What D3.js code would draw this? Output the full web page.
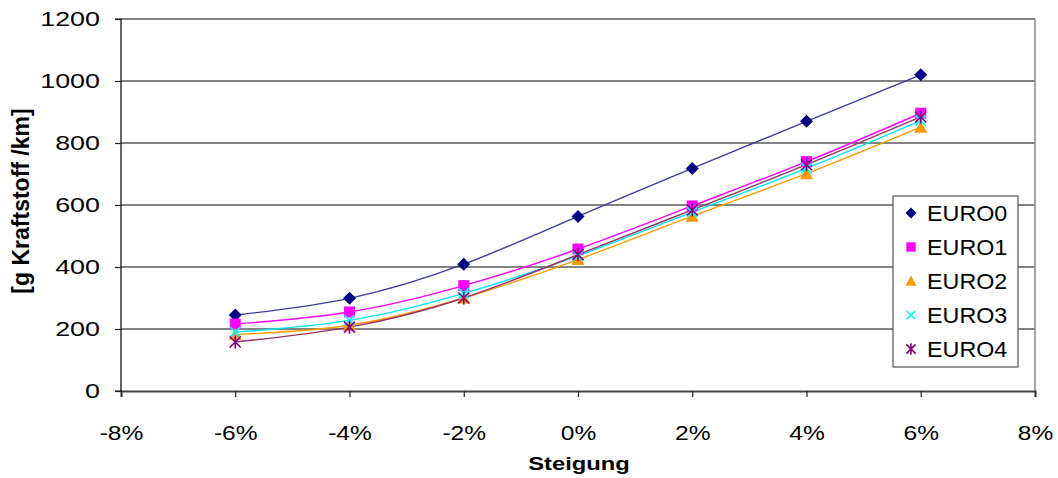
<!DOCTYPE html>
<html><head><meta charset="utf-8">
<script src="https://cdn.jsdelivr.net/npm/d3@7"></script>
<style>body{margin:0;background:#fff;} text{font-family:"Liberation Sans",Arial,sans-serif;}</style>
</head><body><svg id="c" width="1058" height="478"></svg>
<script>
const grades = [-6, -4, -2, 0, 2, 4, 6];
const euro0 = [245, 299, 409, 563, 718, 870, 1020];
const euro1 = [216, 255, 340, 458, 597, 740, 896];
const euro2 = [182, 212, 300, 424, 564, 701, 851];
const euro3 = [190, 228, 315, 436, 577, 718, 872];
const euro4 = [158, 206, 300, 440, 584, 730, 884];
const seriesNames = ["EURO0", "EURO1", "EURO2", "EURO3", "EURO4"];
const xTicks = [-8, -6, -4, -2, 0, 2, 4, 6, 8];
const yTicks = [0, 200, 400, 600, 800, 1000, 1200];

const series = [
  {name: seriesNames[0], values: euro0, marker: "diamond", fill: "#000080", line: "#3c3c9c"},
  {name: seriesNames[1], values: euro1, marker: "square", fill: "#ff00ff", line: "#ff00ff"},
  {name: seriesNames[2], values: euro2, marker: "triangle", fill: "#ff9900", line: "#ff9900"},
  {name: seriesNames[3], values: euro3, marker: "cross", fill: "#00ffff", line: "#00e6f0"},
  {name: seriesNames[4], values: euro4, marker: "star", fill: "#800080", line: "#993366"}
];

const svg = d3.select("#c");
const L = 121, R = 1035, T = 19, B = 391;
const x = d3.scaleLinear().domain([-8, 8]).range([L, R]);
const y = d3.scaleLinear().domain([0, 1200]).range([B, T]);
const FONT = "'Liberation Sans',Arial,sans-serif";

// gridlines
svg.append("g").selectAll("line").data(yTicks.filter(d => d > 0)).join("line")
  .attr("x1", L).attr("x2", R).attr("y1", d => y(d)).attr("y2", d => y(d))
  .attr("stroke", "#5a5a5a").attr("stroke-width", 1.5);
// plot border right
svg.append("line").attr("x1", R).attr("x2", R).attr("y1", T).attr("y2", B).attr("stroke", "#888").attr("stroke-width", 1.5);

// axes
const xAxis = d3.axisBottom(x).tickValues(xTicks).tickSize(6).tickFormat(d => d + "%");
const gx = svg.append("g").attr("transform", `translate(0,${B})`).call(xAxis);
gx.select(".domain").attr("stroke", "#444").attr("stroke-width", 2);
gx.selectAll(".tick line").attr("stroke", "#222").attr("stroke-width", 1.2);
gx.selectAll(".tick text").attr("font-size", 21).attr("fill", "#000").attr("y", 34).attr("dy", "0.71em")
  .attr("transform", "scale(1.17,1)").style("font-family", FONT);

const yAxis = d3.axisLeft(y).tickValues(yTicks).tickSize(6).tickPadding(14).tickFormat(d3.format("d"));
const gy = svg.append("g").attr("transform", `translate(${L},0)`).call(yAxis);
gy.select(".domain").attr("stroke", "#000").attr("stroke-width", 1.2).attr("d", `M-6,${T}H0V${B}H-6`);
gy.selectAll(".tick line").attr("stroke", "#222").attr("stroke-width", 1.2);
gy.selectAll(".tick text").attr("font-size", 21).attr("fill", "#000").attr("x", 0)
  .attr("transform", "translate(-21,0) scale(1.28,1)").style("font-family", FONT);

// axis titles
svg.append("text").attr("transform", `translate(${(L + R) / 2 + 1},470) scale(1.25,1)`).attr("text-anchor", "middle")
  .attr("font-size", 19).attr("font-weight", "bold").text("Steigung");
svg.append("text").attr("transform", `translate(29,201) rotate(-90)`).attr("text-anchor", "middle")
  .attr("font-size", 23).attr("font-weight", "bold").text("[g Kraftstoff /km]");

// lines
const line = d3.line().x((d, i) => x(grades[i])).y(d => y(d)).curve(d3.curveNatural);
series.forEach(s => {
  svg.append("path").attr("d", line(s.values)).attr("fill", "none")
    .attr("stroke", s.line).attr("stroke-width", 1.4);
});

function drawMarker(g, type, color, cx, cy, scale) {
  const k = scale || 1;
  if (type === "diamond") {
    const r = 6.5 * k;
    g.append("path").attr("d", `M${cx},${cy - r}L${cx + r},${cy}L${cx},${cy + r}L${cx - r},${cy}Z`).attr("fill", color);
  } else if (type === "square") {
    const r = 5.5 * k;
    g.append("rect").attr("x", cx - r).attr("y", cy - r).attr("width", 2 * r).attr("height", 2 * r).attr("fill", color);
  } else if (type === "triangle") {
    const r = 6.5 * k;
    g.append("path").attr("d", `M${cx},${cy - r}L${cx + r},${cy + r * 0.85}L${cx - r},${cy + r * 0.85}Z`).attr("fill", color);
  } else if (type === "cross") {
    const r = 5 * k;
    g.append("path").attr("d", `M${cx - r},${cy - r}L${cx + r},${cy + r}M${cx - r},${cy + r}L${cx + r},${cy - r}`)
      .attr("stroke", color).attr("stroke-width", 1.6);
  } else if (type === "star") {
    const r = 5.5 * k;
    g.append("path").attr("d", `M${cx - r},${cy - r}L${cx + r},${cy + r}M${cx - r},${cy + r}L${cx + r},${cy - r}M${cx},${cy - r - 1}L${cx},${cy + r + 1}`)
      .attr("stroke", color).attr("stroke-width", 1.6);
  }
}

series.forEach(s => {
  const g = svg.append("g");
  s.values.forEach((v, i) => drawMarker(g, s.marker, s.fill, x(grades[i]), y(v)));
});

// legend
const lg = svg.append("g");
lg.append("rect").attr("x", 893).attr("y", 196).attr("width", 125).attr("height", 171)
  .attr("fill", "#fff").attr("stroke", "#555").attr("stroke-width", 1.2);
series.forEach((s, i) => {
  const cy = 213 + i * 34;
  drawMarker(lg, s.marker, s.fill, 911, cy, 0.85);
  lg.append("text").attr("transform", `translate(927,${cy + 8}) scale(1.06,1)`).attr("font-size", 22).text(s.name);
});
</script></body></html>
